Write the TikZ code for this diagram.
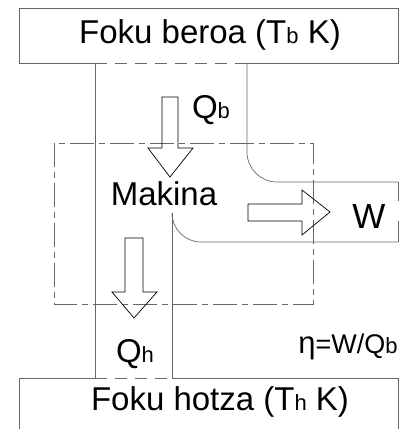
\documentclass[tikz,border=0pt]{standalone}
\usepackage{fontspec}
\setmainfont{Liberation Sans}
\usetikzlibrary{positioning,calc}
\newcommand{\smallsub}[1]{{\fontsize{22}{22}\selectfont #1}}
\tikzset{
	lbl/.style={font=\fontsize{33}{33}\selectfont, inner sep=0pt, anchor=base},
	wall/.style={draw=black!60, line width=0.7pt},
	openwall/.style={wall, dash pattern=on 12pt off 8pt},
	sysbound/.style={wall, dash pattern=on 24pt off 5pt on 6pt off 5pt},
	heatarrow/.style={draw=black, line width=0.7pt, line join=miter}
}

\begin{document}
\begin{tikzpicture}[x=1pt,y=-1pt]
	\useasboundingbox (0,0) rectangle (402,429);
	% reservoirs
	\coordinate (hotL) at (95,63);
	\coordinate (hotR) at (247,63);
	\coordinate (coldL) at (95,378);
	\coordinate (coldR) at (172,378);
	\draw[wall] (hotL) -- (19,63) -- (19,8) -- (398,8) -- (398,63) -- (hotR);
	\draw[openwall] (hotL) -- (hotR);
	\draw[wall] (19,429) -- (19,378) -- (coldL);
	\draw[wall] (coldR) -- (398,378) -- (398,429);
	\draw[openwall] (coldL) -- (coldR);
	% channels
	\coordinate (outR) at (172,213);
	\draw[wall] (hotL) -- (coldL);
	\draw[wall] (outR) -- (coldR);
	\draw[wall, rounded corners=30pt] (hotR) -- (247,182) -- (398,182);
	\draw[wall] (398,182) -- (398,201);
	\draw[wall, rounded corners=29pt] (outR) -- (172,242) -- (398,242);
	\draw[wall] (398,242) -- (398,221);
	% system boundary
	\draw[sysbound] (54,143) rectangle (313,304);
	% arrows
	\draw[heatarrow] (162,97) -- (178,97) -- (178,148) -- (193,148) -- (170,177) -- (148,148) -- (162,148) -- cycle;
	\draw[heatarrow] (125,238) -- (143,238) -- (143,292) -- (157,292) -- (134,318) -- (112,292) -- (125,292) -- cycle;
	\draw[heatarrow] (248,204) -- (302,204) -- (302,190) -- (330,212) -- (302,235) -- (302,221) -- (248,221) -- cycle;
	% labels
	\node[lbl] (hot) at (210,43) {Foku beroa (T\smallsub{b} K)};
	\node[lbl] (cold) at (220,410) {Foku hotza (T\smallsub{h} K)};
	\node[lbl] (qb) at (211,118) {Q\smallsub{b}};
	\node[lbl] (eng) at (164,205) {Makina};
	\node[lbl, font=\fontsize{35}{35}\selectfont] (w) at (369,228) {W};
	\node[lbl] (qh) at (135,362) {Q\smallsub{h}};
	\node[lbl, font=\fontsize{27}{27}\selectfont] (eta) at (348,353) {{\fontsize{31}{31}\selectfont η}=W/Q\smallsub{b}};
\end{tikzpicture}
\end{document}
